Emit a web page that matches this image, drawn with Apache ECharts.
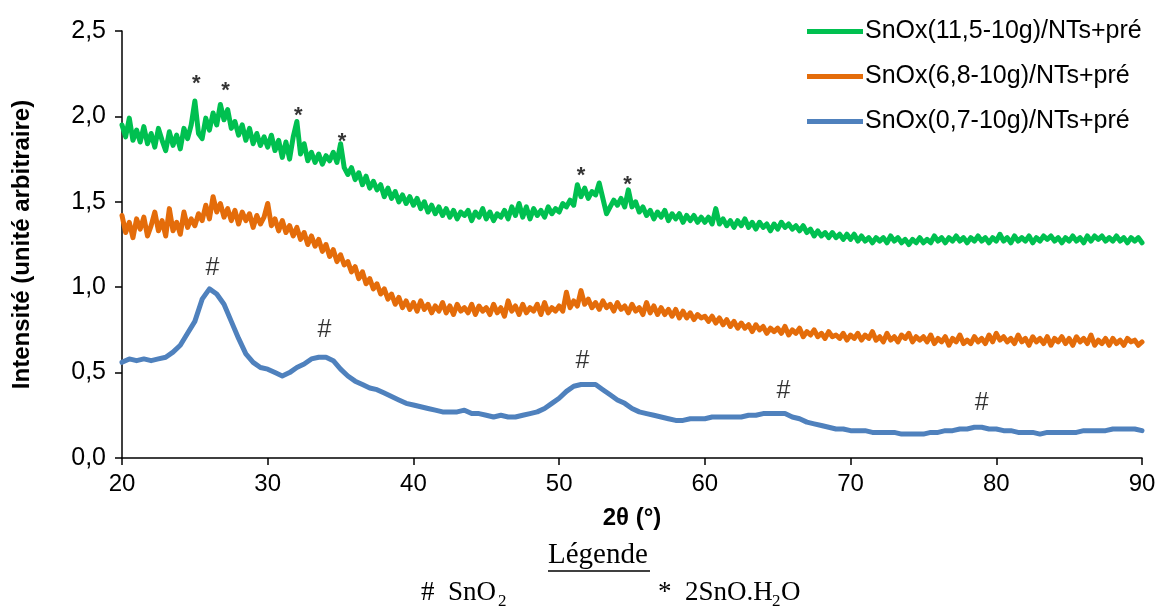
<!DOCTYPE html>
<html><head><meta charset="utf-8">
<script src="https://cdn.jsdelivr.net/npm/echarts@6/dist/echarts.min.js"></script>
<style>html,body{margin:0;padding:0;background:#fff}#c{width:1168px;height:608px}</style>
</head><body><div id="c"></div>
<script>
// 2θ sampling grids (start, step)
const xStart = 20;
const stepNoisy = 0.25;   // green & orange scans
const stepBlue = 0.5;     // blue scan
const seriesNames = ['SnOx(11,5-10g)/NTs+pré', 'SnOx(6,8-10g)/NTs+pré', 'SnOx(0,7-10g)/NTs+pré'];
const green = [
 1.95,1.88,1.99,1.86,1.92,1.85,1.94,1.84,1.90,1.82,1.93,1.86,1.80,1.91,1.83,1.89,1.81,1.93,1.87,1.95,
 2.09,1.90,1.87,1.99,1.92,2.02,1.95,2.07,1.98,2.04,1.93,1.97,1.89,1.95,1.86,1.93,1.84,1.90,1.83,1.88,
 1.82,1.89,1.80,1.86,1.76,1.85,1.75,1.88,1.97,1.78,1.84,1.74,1.79,1.73,1.78,1.72,1.77,1.74,1.79,1.73,
 1.84,1.70,1.66,1.70,1.63,1.67,1.60,1.65,1.58,1.62,1.57,1.60,1.53,1.58,1.52,1.56,1.50,1.54,1.49,1.53,
 1.48,1.52,1.46,1.50,1.44,1.48,1.43,1.47,1.42,1.46,1.41,1.45,1.40,1.44,1.42,1.45,1.39,1.44,1.41,1.46,
 1.40,1.44,1.39,1.43,1.41,1.45,1.40,1.47,1.42,1.49,1.41,1.47,1.40,1.46,1.42,1.45,1.41,1.47,1.43,1.46,
 1.44,1.49,1.47,1.51,1.48,1.60,1.53,1.58,1.52,1.56,1.54,1.61,1.52,1.43,1.47,1.51,1.48,1.52,1.47,1.57,
 1.47,1.50,1.44,1.47,1.42,1.45,1.40,1.44,1.41,1.45,1.39,1.43,1.40,1.43,1.38,1.42,1.39,1.42,1.38,1.41,
 1.38,1.41,1.37,1.46,1.37,1.40,1.36,1.39,1.35,1.39,1.36,1.40,1.35,1.38,1.34,1.38,1.35,1.37,1.33,1.37,
 1.34,1.38,1.35,1.37,1.34,1.36,1.33,1.36,1.32,1.34,1.30,1.33,1.30,1.32,1.29,1.32,1.29,1.31,1.28,1.31,
 1.28,1.31,1.27,1.30,1.27,1.29,1.26,1.29,1.27,1.29,1.26,1.30,1.27,1.29,1.26,1.28,1.25,1.28,1.26,1.29,
 1.26,1.28,1.26,1.30,1.27,1.29,1.26,1.29,1.27,1.30,1.27,1.29,1.26,1.29,1.27,1.30,1.27,1.29,1.26,1.29,
 1.27,1.31,1.27,1.29,1.26,1.30,1.27,1.29,1.27,1.30,1.26,1.29,1.27,1.30,1.28,1.30,1.27,1.29,1.26,1.29,
 1.27,1.30,1.27,1.29,1.26,1.30,1.27,1.30,1.28,1.30,1.27,1.29,1.27,1.30,1.27,1.29,1.26,1.29,1.27,1.29,
 1.26];
const orange = [
 1.42,1.32,1.38,1.29,1.40,1.34,1.41,1.30,1.36,1.44,1.33,1.39,1.30,1.46,1.33,1.38,1.31,1.44,1.35,1.40,
 1.36,1.43,1.39,1.48,1.40,1.53,1.44,1.49,1.41,1.46,1.39,1.45,1.37,1.44,1.39,1.43,1.35,1.42,1.37,1.41,
 1.49,1.36,1.40,1.33,1.39,1.32,1.36,1.30,1.35,1.28,1.32,1.25,1.30,1.24,1.28,1.21,1.25,1.18,1.22,1.15,
 1.19,1.13,1.15,1.09,1.12,1.05,1.09,1.02,1.05,0.99,1.02,0.96,0.99,0.93,0.96,0.90,0.94,0.88,0.92,0.87,
 0.91,0.86,0.92,0.87,0.90,0.85,0.89,0.86,0.91,0.85,0.89,0.84,0.90,0.86,0.88,0.85,0.90,0.84,0.89,0.86,
 0.88,0.84,0.90,0.85,0.88,0.83,0.92,0.86,0.89,0.84,0.90,0.85,0.88,0.86,0.90,0.84,0.91,0.85,0.88,0.86,
 0.89,0.86,0.97,0.88,0.92,0.89,0.98,0.90,0.93,0.88,0.91,0.87,0.92,0.88,0.90,0.86,0.91,0.87,0.89,0.85,
 0.90,0.86,0.88,0.84,0.91,0.85,0.89,0.84,0.88,0.84,0.87,0.83,0.87,0.82,0.86,0.82,0.85,0.81,0.84,0.82,
 0.83,0.80,0.83,0.79,0.82,0.78,0.81,0.77,0.80,0.76,0.79,0.76,0.78,0.74,0.78,0.75,0.77,0.73,0.76,0.74,
 0.76,0.73,0.77,0.72,0.75,0.73,0.76,0.71,0.74,0.72,0.75,0.71,0.73,0.70,0.74,0.71,0.72,0.70,0.73,0.69,
 0.72,0.70,0.73,0.69,0.72,0.70,0.74,0.69,0.71,0.68,0.73,0.69,0.71,0.68,0.72,0.70,0.73,0.68,0.71,0.69,
 0.71,0.68,0.72,0.67,0.70,0.68,0.71,0.66,0.70,0.68,0.72,0.67,0.69,0.67,0.71,0.68,0.70,0.67,0.72,0.68,
 0.73,0.69,0.71,0.68,0.70,0.67,0.72,0.68,0.70,0.66,0.71,0.68,0.70,0.67,0.71,0.66,0.70,0.68,0.71,0.67,
 0.70,0.66,0.71,0.68,0.70,0.67,0.72,0.66,0.69,0.67,0.70,0.66,0.70,0.67,0.69,0.66,0.70,0.68,0.69,0.66,
 0.68];
const blue = [
 0.56,0.58,0.57,0.58,0.57,0.58,0.59,0.62,0.66,0.73,
 0.80,0.93,0.99,0.96,0.90,0.80,0.70,0.61,0.56,0.53,
 0.52,0.50,0.48,0.50,0.53,0.55,0.58,0.59,0.59,0.57,
 0.52,0.48,0.45,0.43,0.41,0.40,0.38,0.36,0.34,0.32,
 0.31,0.30,0.29,0.28,0.27,0.27,0.27,0.28,0.26,0.26,
 0.25,0.24,0.25,0.24,0.24,0.25,0.26,0.27,0.29,0.32,
 0.35,0.39,0.42,0.43,0.43,0.43,0.40,0.37,0.34,0.32,
 0.29,0.27,0.26,0.25,0.24,0.23,0.22,0.22,0.23,0.23,
 0.23,0.24,0.24,0.24,0.24,0.24,0.25,0.25,0.26,0.26,
 0.26,0.26,0.24,0.23,0.21,0.20,0.19,0.18,0.17,0.17,
 0.16,0.16,0.16,0.15,0.15,0.15,0.15,0.14,0.14,0.14,
 0.14,0.15,0.15,0.16,0.16,0.17,0.17,0.18,0.18,0.17,
 0.17,0.16,0.16,0.15,0.15,0.15,0.14,0.15,0.15,0.15,
 0.15,0.15,0.16,0.16,0.16,0.16,0.17,0.17,0.17,0.17,
 0.16];
// peak markers [2θ, y]
const hashMarks = [[26.2, 1.11], [33.9, 0.75], [51.6, 0.57], [65.4, 0.39], [79.0, 0.32]];
const starMarks = [[25.1, 2.19], [27.1, 2.15], [32.1, 2.0], [35.1, 1.85], [51.5, 1.65], [54.7, 1.60]];
const yTicks = ['0,0','0,5','1,0','1,5','2,0','2,5'];

const colors = ['#00C050', '#E46C0A', '#4F81BD'];
function pairs(arr, step){ return arr.map((v,i)=>[xStart + i*step, v]); }
const allSeries = [[green, stepNoisy], [orange, stepNoisy], [blue, stepBlue]];

const chart = echarts.init(document.getElementById('c'), null, {renderer:'canvas'});
const font = 'Liberation Sans, Arial, sans-serif';
const serif = 'Liberation Serif, Times New Roman, serif';
chart.setOption({
  animation:false,
  backgroundColor:'#fff',
  grid:{left:122, right:26, top:31, bottom:150, containLabel:false},
  legend:{
    orient:'vertical', left:802, top:14, itemGap:20, itemWidth:56, itemHeight:25,
    icon:'path://M0,0 L56,0 L56,5 L0,5 Z',
    textStyle:{fontFamily:font, fontSize:25, color:'#000', padding:[0,0,0,-3]},
    data: seriesNames
  },
  xAxis:{
    type:'value', min:20, max:90, interval:10,
    axisLine:{lineStyle:{color:'#000', width:1.5}},
    axisTick:{show:true, length:7, lineStyle:{color:'#000', width:1.5}},
    axisLabel:{fontFamily:font, fontSize:24, color:'#000', margin:14},
    splitLine:{show:false},
    name:'2θ (°)', nameLocation:'middle', nameGap:48,
    nameTextStyle:{fontFamily:font, fontSize:24, fontWeight:'bold', color:'#000'}
  },
  yAxis:{
    type:'value', min:0, max:2.5, interval:0.5,
    axisLine:{show:true, lineStyle:{color:'#000', width:1.5}},
    axisTick:{show:true, length:7, lineStyle:{color:'#000', width:1.5}},
    axisLabel:{fontFamily:font, fontSize:25, color:'#000', margin:16,
      formatter:(v)=>yTicks[Math.round(v/0.5)]},
    splitLine:{show:false},
    name:'Intensité (unité arbitraire)', nameLocation:'middle', nameGap:88, nameRotate:90,
    nameTextStyle:{fontFamily:font, fontSize:24, fontWeight:'bold', color:'#000'}
  },
  series: allSeries.map(([arr,step],i)=>({
    name:seriesNames[i], type:'line', data:pairs(arr, step), symbol:'none', showSymbol:false,
    lineStyle:{color:colors[i], width:5, join:'round', cap:'round'},
    itemStyle:{color:colors[i]}, z: 3-i
  })).concat([
    {type:'scatter', data:hashMarks, symbolSize:0, silent:true,
     label:{show:true, position:'inside', formatter:'#', fontFamily:font, fontSize:25, color:'#000'}},
    {type:'scatter', data:starMarks, symbolSize:0, silent:true,
     label:{show:true, position:'inside', formatter:'*', fontFamily:font, fontSize:22, fontWeight:'bold', color:'#000'}}
  ]),
  graphic:[
    {type:'text', left:548, top:541, style:{text:'Légende', font:'29px '+serif, fill:'#000'}},
    {type:'line', shape:{x1:548, y1:571, x2:650, y2:571}, style:{stroke:'#000', lineWidth:1.3}},
    {type:'text', left:421, top:579, style:{text:'#  SnO', font:'27px '+serif, fill:'#000'}},
    {type:'text', left:498, top:593, style:{text:'2', font:'17px '+serif, fill:'#000'}},
    {type:'text', left:658, top:579, style:{text:'*  2SnO.H', font:'27px '+serif, fill:'#000'}},
    {type:'text', left:772, top:593, style:{text:'2', font:'17px '+serif, fill:'#000'}},
    {type:'text', left:781, top:579, style:{text:'O', font:'27px '+serif, fill:'#000'}}
  ]
});
</script></body></html>
